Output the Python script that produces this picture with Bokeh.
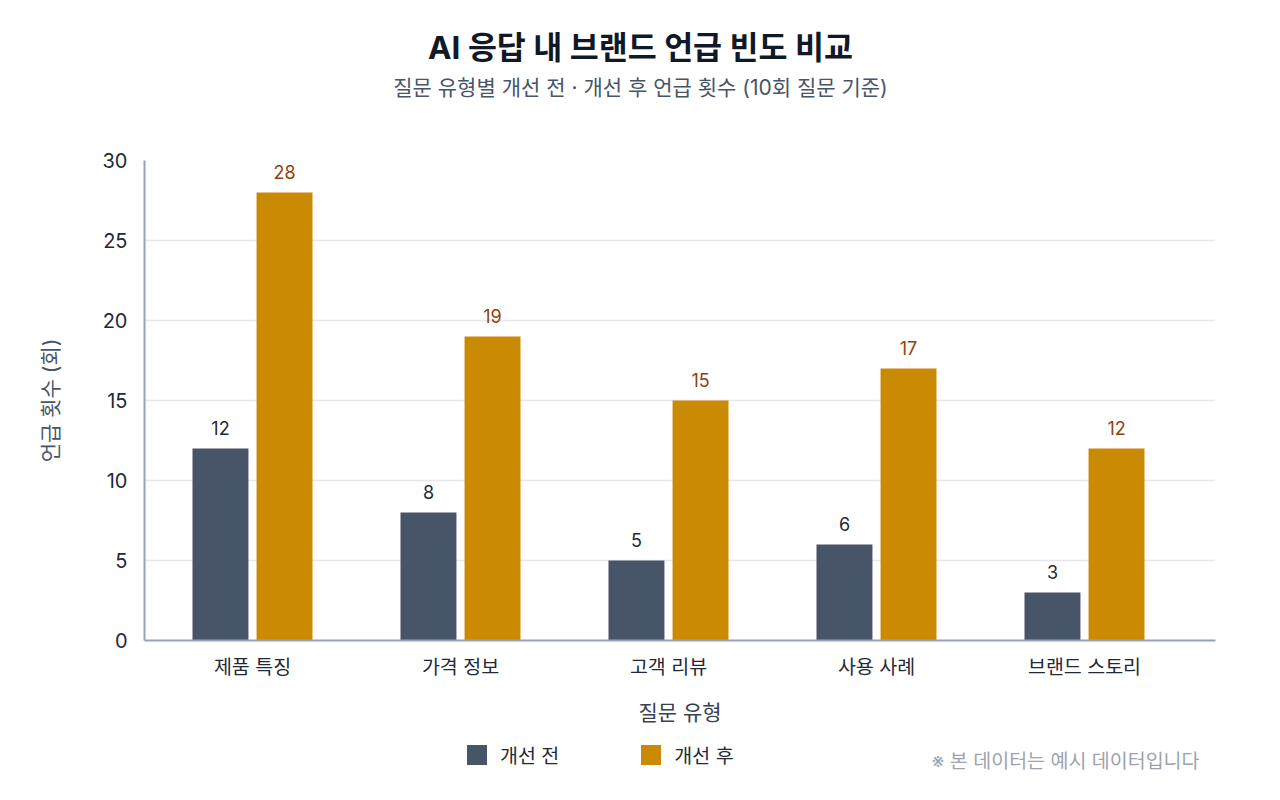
from bokeh.plotting import figure
from bokeh.layouts import column
from bokeh.models import ColumnDataSource, Label, Legend, LegendItem, Range1d, FixedTicker
from bokeh.core.properties import value
from bokeh.embed import file_html
from bokeh.resources import INLINE

categories = ["제품 특징", "가격 정보", "고객 리뷰", "사용 사례", "브랜드 스토리"]
before = [12, 8, 5, 6, 3]
after = [28, 19, 15, 17, 12]
series_names = ["개선 전", "개선 후"]
y_ticks = [0, 5, 10, 15, 20, 25, 30]

title_text = "AI 응답 내 브랜드 언급 빈도 비교"
subtitle_text = "질문 유형별 개선 전 · 개선 후 언급 횟수 (10회 질문 기준)"
x_label = "질문 유형"
y_label = "언급 횟수 (회)"
footnote = "※ 본 데이터는 예시 데이터입니다"

FONT = "Inter, Noto Sans CJK KR"
C_BEFORE = "#475569"
C_AFTER = "#ca8a04"
W = 1264
FRAME_L, FRAME_R = 144, 1215
BAND = 208.0            # pixel width of one category band
BAND_START = 148        # pixel where the first band starts
TOP_H = 120
MAIN_H = 620
BOT_H = 44
BAR_W = 0.269
OFF = 0.154


def blank_fig(h):
    # frames of a column are aligned, so the x range spans the main frame's pixels
    f = figure(width=W, height=h, output_backend="svg", toolbar_location=None,
               x_range=Range1d(FRAME_L, FRAME_R), y_range=Range1d(h, 0),
               x_axis_location=None, y_axis_location=None)
    f.min_border_left = FRAME_L
    f.min_border_right = W - FRAME_R
    f.min_border_top = f.min_border_bottom = 0
    f.outline_line_color = None
    f.xgrid.visible = False
    f.ygrid.visible = False
    return f


# ---- header ----
top = blank_fig(TOP_H)
top.add_layout(Label(x=640, y=47, text=title_text, text_align="center", text_baseline="middle",
                     text_font=FONT, text_font_size="31.5px", text_font_style="bold",
                     text_color="#111827"))
top.add_layout(Label(x=640, y=87, text=subtitle_text, text_align="center", text_baseline="middle",
                     text_font=FONT, text_font_size="21px", text_color="#475569"))

# ---- main chart ----
centers = [i + 0.5 for i in range(len(categories))]
src = ColumnDataSource(dict(
    xb=[c - OFF for c in centers], xa=[c + OFF for c in centers],
    before=before, after=after,
    before_txt=[str(v) for v in before], after_txt=[str(v) for v in after],
))

x_start = (FRAME_L - BAND_START) / BAND
x_end = (FRAME_R - BAND_START) / BAND
p = figure(
    x_range=Range1d(x_start, x_end), y_range=Range1d(0, 30),
    width=W, height=MAIN_H, output_backend="svg", toolbar_location=None,
    min_border_left=FRAME_L, min_border_right=W - FRAME_R, min_border_top=40, min_border_bottom=100,
)
p.outline_line_color = None

r1 = p.vbar(x="xb", top="before", width=BAR_W, source=src, fill_color=C_BEFORE, line_color=None)
r2 = p.vbar(x="xa", top="after", width=BAR_W, source=src, fill_color=C_AFTER, line_color=None)

p.text(x="xb", y="before", text="before_txt", source=src,
       text_align="center", text_baseline="bottom", y_offset=-14,
       text_font=value(FONT), text_font_size="18px", text_color="#1f2937")
p.text(x="xa", y="after", text="after_txt", source=src,
       text_align="center", text_baseline="bottom", y_offset=-14,
       text_font=value(FONT), text_font_size="18px", text_color="#92400e")

p.xaxis.ticker = FixedTicker(ticks=centers)
p.xaxis.major_label_overrides = {c: name for c, name in zip(centers, categories)}
p.yaxis.ticker = FixedTicker(ticks=y_ticks)
for ax in (p.xaxis[0], p.yaxis[0]):
    ax.axis_line_color = "#94a3b8"
    ax.axis_line_width = 2
    ax.major_tick_line_color = None
    ax.minor_tick_line_color = None
    ax.major_label_text_font = FONT
    ax.axis_label_text_font = FONT
    ax.axis_label_text_font_style = "normal"
    ax.axis_label_text_font_size = "21px"
p.yaxis.major_label_text_font_size = "20px"
p.yaxis.major_label_text_color = "#1f2937"
p.yaxis.major_label_standoff = 11
p.yaxis.axis_label = y_label
p.yaxis.axis_label_text_color = "#475569"
p.yaxis.axis_label_standoff = 37
p.xaxis.major_label_text_font_size = "19.5px"
p.xaxis.major_label_text_color = "#1f2937"
p.xaxis.major_label_standoff = 8
p.xaxis.axis_label = x_label
p.xaxis.axis_label_text_color = "#374151"
p.xaxis.axis_label_standoff = 18

p.xgrid.grid_line_color = None
p.ygrid.grid_line_color = "#e5e7eb"
p.ygrid.grid_line_width = 1.5

# ---- footer: legend + note ----
bot = blank_fig(BOT_H)
proxy = ColumnDataSource(dict(x=[-1000], top=[0]))  # legend swatches only, kept off-screen
d1 = bot.vbar(x="x", top="top", width=1, source=proxy, fill_color=C_BEFORE, line_color=None)
d2 = bot.vbar(x="x", top="top", width=1, source=proxy, fill_color=C_AFTER, line_color=None)
legend = Legend(items=[LegendItem(label=series_names[0], renderers=[d1]),
                       LegendItem(label=series_names[1], renderers=[d2])],
                location=(464 - FRAME_L, BOT_H - 29), orientation="horizontal",
                glyph_width=25, glyph_height=25, label_standoff=11, spacing=79,
                padding=0, margin=0, border_line_color=None, background_fill_alpha=0,
                label_text_font=FONT, label_text_font_size="19.5px", label_text_color="#1f2937")
bot.add_layout(legend)
bot.add_layout(Label(x=1199, y=20, text=footnote, text_align="right", text_baseline="middle",
                     text_font=FONT, text_font_size="19.5px", text_color="#9ca3af"))

layout = column(top, p, bot, spacing=0)
open("out.html", "w").write(file_html(layout, INLINE))
